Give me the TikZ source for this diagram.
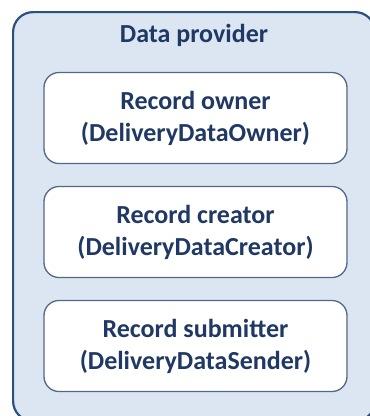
\documentclass[tikz,border=0pt]{standalone}
\usepackage{fontspec}
\setmainfont{Carlito}
\definecolor{txtblue}{RGB}{31,56,100}
\definecolor{outerline}{RGB}{44,80,125}
\definecolor{outerfill}{RGB}{220,230,242}
\definecolor{innerline}{RGB}{84,104,134}
\tikzset{
  container/.style={draw=outerline, line width=2.2pt, fill=outerfill, rounded corners=20pt, inner sep=0pt},
  rolebox/.style={draw=innerline, line width=1.3pt, fill=white, rounded corners=15pt,
    minimum width=303pt, minimum height=91pt, align=center, text=txtblue,
    font=\bfseries\fontsize{26}{32}\selectfont, inner sep=0pt},
  titletext/.style={text=txtblue, font=\bfseries\fontsize{26}{32}\selectfont, inner sep=0pt}
}
\begin{document}
\begin{tikzpicture}[x=1pt,y=-1pt]
\useasboundingbox (0,0) rectangle (370,416);
\clip (0,0) rectangle (370,416);
\node[container, minimum width=362pt, minimum height=409pt, anchor=north west] (provider) at (12,11) {};
\node[titletext] (title) at (194,35) {Data provider};
\node[rolebox] (owner) at (195.5,118) {Record owner\\(DeliveryDataOwner)};
\node[rolebox] (creator) at (195.5,232) {Record creator\\(DeliveryDataCreator)};
\node[rolebox] (sender) at (195.5,346) {Record submitter\\(DeliveryDataSender)};
\end{tikzpicture}
\end{document}
